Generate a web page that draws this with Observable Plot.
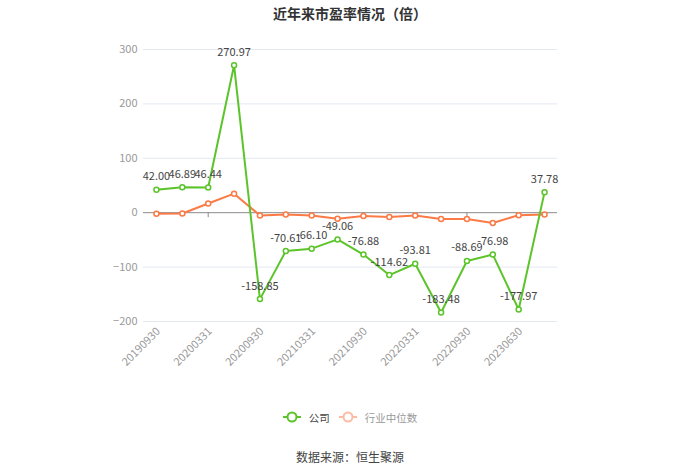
<!DOCTYPE html>
<html>
<head>
<meta charset="utf-8">
<script src="https://cdn.jsdelivr.net/npm/d3@7"></script>
<script src="https://cdn.jsdelivr.net/npm/@observablehq/plot@0.6"></script>
<style>
  body { margin: 0; background: #fff; font-family: "Noto Sans CJK SC", "Noto Sans", sans-serif; }
  #wrap { position: relative; width: 700px; height: 474px; }
  #title { position: absolute; top: 0; left: 0; width: 700px; height: 26px; line-height: 26px; text-align: center; font-size: 14px; font-weight: bold; color: #333; }
  #chart { position: absolute; top: 30px; left: 0; }
  #chart svg { display: block; }
  #legend { position: absolute; top: 408px; left: 0; width: 700px; height: 18px; display: flex; justify-content: center; align-items: center; font-size: 10.5px; }
  .item { display: flex; align-items: center; margin: 0 4.5px; }
  .item svg { margin-right: 8px; }
  #caption { position: absolute; top: 448px; left: 0; width: 700px; height: 18px; line-height: 18px; text-align: center; font-size: 12px; color: #444; }
</style>
</head>
<body>
<div id="wrap">
  <div id="title">近年来市盈率情况（倍）</div>
  <div id="chart"></div>
  <div id="legend"></div>
  <div id="caption">数据来源：恒生聚源</div>
</div>
<script>
const dates = ["20190930","20191231","20200331","20200630","20200930","20201231","20210331","20210630","20210930","20211231","20220331","20220630","20220930","20221231","20230630","20230930"];
const company = [42.00, 46.89, 46.44, 270.97, -158.85, -70.61, -66.10, -49.06, -76.88, -114.62, -93.81, -183.48, -88.69, -76.98, -177.97, 37.78];
const industry = [-2, -1.5, 17, 35, -5, -3.5, -5, -11, -6, -8, -5, -11.5, -11.5, -19, -4.5, -3.5];
const xLabels = ["20190930","20200331","20200930","20210331","20210930","20220331","20220930","20230630"];
const axisTicks = ["20200331","20210930","20220930"];
const yTicks = [-200, -100, 0, 100, 200, 300];
const seriesNames = ["公司", "行业中位数"];

const green = "#5bc42a";
const orange = "#fb7a46";

const compData = dates.map((d, i) => ({date: d, value: company[i]}));
const indData = dates.map((d, i) => ({date: d, value: industry[i]}));

const chart = Plot.plot({
  width: 700,
  height: 360,
  marginTop: 19,
  marginBottom: 69,
  marginLeft: 143,
  marginRight: 143,
  style: {fontFamily: "'Noto Sans CJK SC', 'Noto Sans', sans-serif", color: "#999", background: "#fff"},
  x: {type: "point", domain: dates, padding: 0.5, round: false, axis: null},
  y: {domain: [-200, 300], axis: null},
  marks: [
    Plot.gridY(yTicks.filter(v => v !== 0), {stroke: "#e4e8f3", strokeOpacity: 1, strokeWidth: 1}),
    Plot.axisY(yTicks, {tickSize: 0, tickPadding: 6, fontSize: 11, fill: "#999", label: null}),
    Plot.ruleY([0], {stroke: "#8a8a8a", strokeWidth: 1}),
    Plot.ruleX(axisTicks, {x: d => d, y1: 0, y2: 0, insetBottom: -5, stroke: "#8a8a8a"}),
    Plot.text(xLabels, {x: d => d, y: -200, text: d => d, rotate: -45, textAnchor: "end", dy: 8, dx: 2, fontSize: 11, fill: "#999"}),
    Plot.line(indData, {x: "date", y: "value", stroke: orange, strokeWidth: 2}),
    Plot.dot(indData, {x: "date", y: "value", r: 2.5, stroke: orange, strokeWidth: 1.5, fill: "#fff"}),
    Plot.line(compData, {x: "date", y: "value", stroke: green, strokeWidth: 2}),
    Plot.dot(compData, {x: "date", y: "value", r: 2.5, stroke: green, strokeWidth: 1.5, fill: "#fff"}),
    Plot.text(compData, {x: "date", y: "value", text: d => d.value.toFixed(2), dy: -13, fontSize: 11, fill: "#444"})
  ]
});
document.getElementById("chart").appendChild(chart);

// legend
const legendColors = [green, "#fcbca3"];
const legendText = ["#444", "#999"];
const legend = document.getElementById("legend");
seriesNames.forEach((name, i) => {
  const item = document.createElement("div");
  item.className = "item";
  item.innerHTML = `<svg width="18" height="14"><line x1="0" y1="7" x2="18" y2="7" stroke="${legendColors[i]}" stroke-width="2"/><circle cx="9" cy="7" r="4.5" fill="#fff" stroke="${legendColors[i]}" stroke-width="2"/></svg><span style="color:${legendText[i]}">${name}</span>`;
  legend.appendChild(item);
});
</script>
</body>
</html>
